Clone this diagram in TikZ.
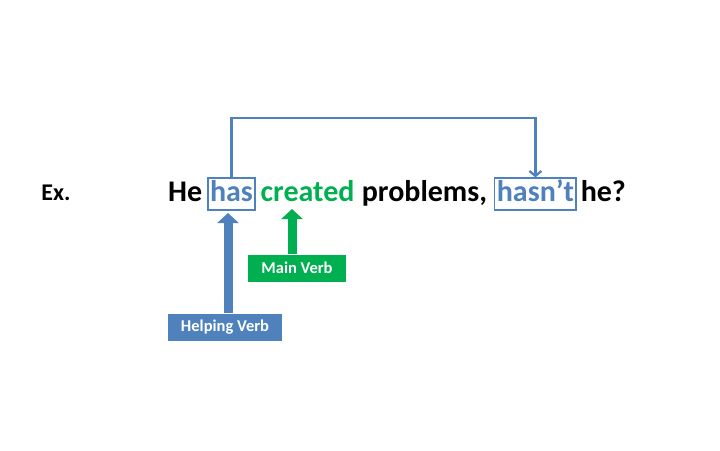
\documentclass[tikz,border=0pt]{standalone}
\usepackage{fontspec}
\setmainfont{Carlito}
\usetikzlibrary{arrows.meta,positioning,calc}
\definecolor{vblue}{HTML}{4F81BD}
\definecolor{vgreen}{HTML}{00B050}

\begin{document}
\begin{tikzpicture}[
  x=1pt,y=-1pt,
  every node/.style={font=\bfseries},
  word/.style={inner sep=0pt,font=\fontsize{30}{34}\selectfont\bfseries},
  wbox/.style={word,draw=vblue,line width=1.2pt,inner xsep=2pt,inner ysep=2pt,
               text height=21pt,text depth=7pt},
  tag/.style={fill=#1,text=white,minimum height=27pt,inner xsep=6pt,
              font=\fontsize{16.5}{19}\selectfont\bfseries},
  link/.style={vblue,line width=2.2pt,-{Straight Barb[length=5pt,width=12pt]}},
  block/.style={#1,line width=9pt,-{Triangle[length=10pt,width=21pt]}}
]
\useasboundingbox (0,0) rectangle (720,450);

\node[font=\fontsize{24}{28}\selectfont\bfseries] (ex) at (56,193) {Ex.};

% sentence
\node[word,anchor=base west] (he) at (168,201) {He};
\node[wbox,text=vblue,base right=5pt of he] (has) {has};
\node[word,text=vgreen,base right=5pt of has] (created) {created};
\node[word,base right=7pt of created] (problems) {problems,};
\node[wbox,text=vblue,base right=7pt of problems] (hasnt) {hasn’t};
\node[word,base right=4pt of hasnt] (he2) {he?};

% labels
\node[tag=vblue,minimum width=114pt] (helping) at (225,327) {Helping Verb};
\node[tag=vgreen,minimum width=98pt] (main) at (297,268) {Main Verb};

% arrows
\coordinate (top) at (0,118);
\coordinate (hvtip) at (228,213);
\coordinate (mvtip) at (292,209);
\draw[link] (has.north) -- (has.north |- top) -| (hasnt.north);
\draw[block=vblue] (hvtip |- helping.north) -- (hvtip);
\draw[block=vgreen] (mvtip |- main.north) -- (mvtip);
\end{tikzpicture}
\end{document}
